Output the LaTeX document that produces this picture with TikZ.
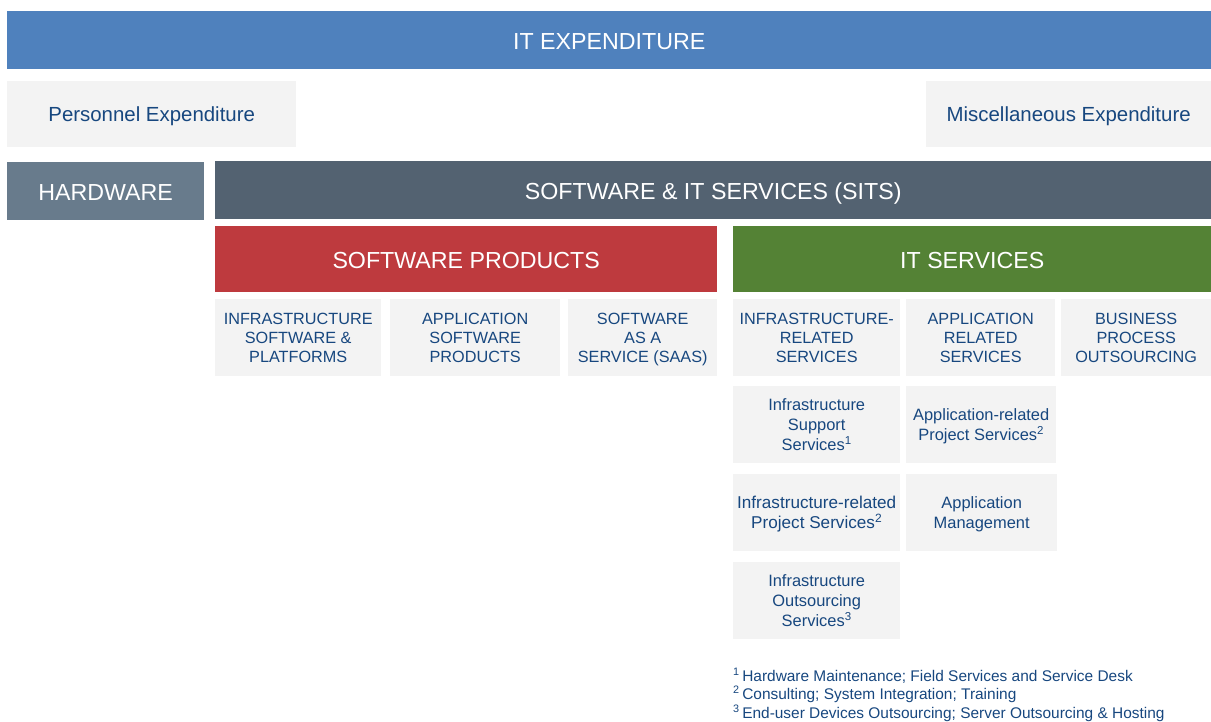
\documentclass[tikz,border=0pt]{standalone}
\usepackage{fontspec}
\setmainfont{Liberation Sans}

\definecolor{ittext}{HTML}{17477F}
\definecolor{cellgray}{HTML}{F3F3F3}
\definecolor{itblue}{HTML}{4F81BD}
\definecolor{hwgray}{HTML}{687B8C}
\definecolor{sitsgray}{HTML}{536271}
\definecolor{swred}{HTML}{BE3A3E}
\definecolor{svgreen}{HTML}{548235}

\tikzset{
  band/.style={inner sep=0pt, anchor=north west, text=white, text height=19bp, text depth=0bp,
    font=\fontsize{23.3}{27}\selectfont},
  cell/.style={fill=cellgray, inner sep=0pt, anchor=north west, text=ittext, align=center, text depth=0bp},
  topcell/.style={cell, minimum height=66bp, font=\fontsize{20.5}{24}\selectfont},
  capcell/.style={cell, minimum height=77bp, font=\fontsize{16.3}{19}\selectfont},
  subcell/.style={cell, minimum height=77bp, font=\fontsize{16.5}{20}\selectfont},
  note/.style={anchor=base west, inner sep=0pt, text=ittext, font=\fontsize{15.5}{18}\selectfont},
}

\begin{document}
\begin{tikzpicture}[x=1bp, y=-1bp]
\useasboundingbox (0,0) rectangle (1211,722);

\node [band, fill=itblue, minimum width=1204bp, minimum height=58bp] (itexp) at (7,11) {IT EXPENDITURE};
\node [topcell, minimum width=289bp] (personnel) at (7,81) {Personnel Expenditure};
\node [topcell, minimum width=285bp] (misc) at (926,81) {Miscellaneous Expenditure};
\node [band, fill=hwgray, minimum width=197bp, minimum height=58bp] (hardware) at (7,162) {HARDWARE};
\node [band, fill=sitsgray, minimum width=996bp, minimum height=58bp] (sits) at (215,161) {SOFTWARE \& IT SERVICES (SITS)};
\node [band, fill=swred, minimum width=502bp, minimum height=66bp] (swprod) at (215,226) {SOFTWARE PRODUCTS};
\node [band, fill=svgreen, minimum width=478bp, minimum height=66bp] (itserv) at (733,226) {IT SERVICES};

% software products
\node [capcell, minimum width=166bp] (infrasw) at (215,299) {INFRASTRUCTURE\\SOFTWARE \&\\PLATFORMS};
\node [capcell, minimum width=170bp] (appsw) at (390,299) {APPLICATION\\SOFTWARE\\PRODUCTS};
\node [capcell, minimum width=149bp] (saas) at (568,299) {SOFTWARE\\AS A\\SERVICE (SAAS)};

% it services
\node [capcell, minimum width=167bp] (infrarel) at (733,299) {INFRASTRUCTURE-\\RELATED\\SERVICES};
\node [capcell, minimum width=149bp] (apprel) at (906,299) {APPLICATION\\RELATED\\SERVICES};
\node [capcell, minimum width=150bp] (bpo) at (1061,299) {BUSINESS\\PROCESS\\OUTSOURCING};

\node [subcell, minimum width=167bp] (infrasupport) at (733,386) {Infrastructure\\Support\\Services\textsuperscript{1}};
\node [subcell, minimum width=150bp] (appproject) at (906,386) {Application-related\\Project Services\textsuperscript{2}};
\node [subcell, minimum width=167bp, font=\fontsize{17.2}{20}\selectfont] (infraproject) at (733,474) {Infrastructure-related\\Project Services\textsuperscript{2}};
\node [subcell, minimum width=151bp] (appmgmt) at (906,474) {Application\\Management};
\node [subcell, minimum width=167bp] (infraout) at (733,562) {Infrastructure\\Outsourcing\\Services\textsuperscript{3}};

% footnotes
\node [note] (note1) at (733,681) {\textsuperscript{1}\,Hardware Maintenance; Field Services and Service Desk};
\node [note] (note2) at (733,699) {\textsuperscript{2}\,Consulting; System Integration; Training};
\node [note] (note3) at (733,718) {\textsuperscript{3}\,End-user Devices Outsourcing; Server Outsourcing \& Hosting};

\end{tikzpicture}
\end{document}
